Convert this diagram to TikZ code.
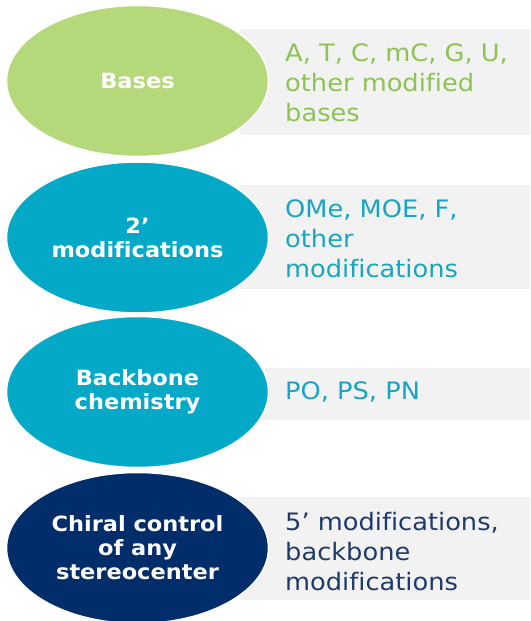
\documentclass[tikz,border=0pt]{standalone}
\usepackage{fontspec}
\setmainfont{DejaVu Sans}[Ligatures=NoCommon, FakeStretch=1.07]
\definecolor{bgreen}{HTML}{B5D87B}
\definecolor{tgreen}{HTML}{8DC255}
\definecolor{bteal}{HTML}{03A9C6}
\definecolor{tteal}{HTML}{17A5C2}
\definecolor{bnavy}{HTML}{012D6A}
\definecolor{tnavy}{HTML}{1F3A6A}
\definecolor{panel}{HTML}{F2F2F2}
\usetikzlibrary{shapes.geometric}
\tikzset{
  oval/.style={ellipse, draw=white, line width=1.5pt, minimum width=262pt, minimum height=151pt, inner sep=0pt,
    text=white, font=\fontsize{21}{24}\selectfont\bfseries, align=center},
  panelbox/.style={fill=panel, draw=none},
  desc/.style={anchor=west, inner sep=0pt, align=left, font=\fontsize{24}{30}\selectfont}
}
\begin{document}
\begin{tikzpicture}[x=1pt,y=-1pt]
\useasboundingbox[fill=white] (0,0) rectangle (530,621);
% panels
\fill[panelbox] (240,29) rectangle (530,135);
\fill[panelbox] (240,185) rectangle (530,289);
\fill[panelbox] (240,368) rectangle (530,420);
\fill[panelbox] (240,497) rectangle (530,600);
% ellipses
\node[oval, fill=bgreen] (e1) at (137.5,81) {Bases};
\node[oval, fill=bteal] (e2) at (137.5,237.5) {2’\\modifications};
\node[oval, fill=bteal] (e3) at (137.5,392) {Backbone\\chemistry};
\node[oval, fill=bnavy] (e4) at (137.5,548) {Chiral control\\of any\\stereocenter};
% descriptions
\node[desc, text=tgreen] (d1) at (285,83) {A, T, C, mC, G, U,\\other modified\\bases};
\node[desc, text=tteal] (d2) at (285,239) {OMe, MOE, F,\\other\\modifications};
\node[desc, text=tteal] (d3) at (285,392) {PO, PS, PN};
\node[desc, text=tnavy] (d4) at (285,552) {5’ modifications,\\backbone\\modifications};
\end{tikzpicture}
\end{document}
